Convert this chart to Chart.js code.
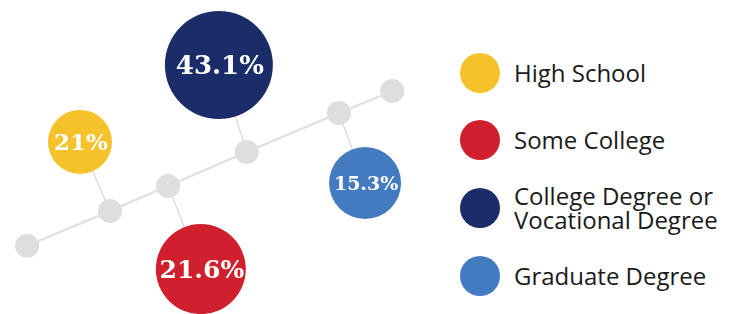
<!DOCTYPE html>
<html>
<head>
<meta charset="utf-8">
<script src="https://cdn.jsdelivr.net/npm/chart.js@4.4.1/dist/chart.umd.min.js"></script>
<style>
  body { margin: 0; background: #fff; }
  #wrap { position: relative; width: 735px; height: 314px; overflow: hidden; }
  #chart { position: absolute; left: 0; top: 0; }
  #legend { position: absolute; left: 460px; top: 0; font-family: "Open Sans", sans-serif; font-size: 24px; line-height: 24px; color: #1a1a1a; }
  .item { position: absolute; left: 0; display: flex; align-items: center; height: 50px; white-space: nowrap; }
  .dot { width: 40px; height: 40px; border-radius: 50%; margin-right: 14px; flex: none; }
</style>
</head>
<body>
<div id="wrap">
  <canvas id="chart" width="430" height="314"></canvas>
  <div id="legend"></div>
</div>
<script>
// categories and their shares (%)
const categories = ['High School', 'Some College', 'College Degree or\nVocational Degree', 'Graduate Degree'];
const shares = [21, 21.6, 43.1, 15.3];
const shareLabels = ['21%', '21.6%', '43.1%', '15.3%'];

// the gray timeline dots (layout units 0-100)
const stepX = [6.3, 25.6, 39.1, 57.4, 78.8, 91.2];
const stepY = [21.7, 32.8, 40.8, 51.6, 64.0, 71.0];

// where each bubble sits and which step it hangs from
const bubbleX = [18.6, 46.7, 50.9, 84.9];
const bubbleY = [54.8, 14.3, 79.3, 41.7];
const bubbleStep = [1, 2, 3, 4];

// styling
const colors = ['#f6c22c', '#d0202d', '#1b2d68', '#447bc0'];
const bubbleSize = [32, 45, 54, 36];
const labelFont = [23, 25, 26, 19];

const timeline = stepX.map((x, i) => ({ x: x, y: stepY[i] }));

const connectors = bubbleX.map((x, i) => ({
    type: 'line',
    data: [timeline[bubbleStep[i]], { x: x, y: bubbleY[i] }],
    borderColor: '#cfcfcf',
    borderWidth: 1,
    pointRadius: 0,
    order: 3,
    clip: false
}));

const bubbleLabels = {
    id: 'bubbleLabels',
    afterDatasetsDraw(chart) {
        const idx = chart.data.datasets.findIndex(d => d.type === 'bubble');
        const meta = chart.getDatasetMeta(idx);
        const ctx = chart.ctx;
        ctx.save();
        ctx.fillStyle = '#ffffff';
        ctx.textAlign = 'center';
        ctx.textBaseline = 'middle';
        meta.data.forEach((el, i) => {
            ctx.font = 'bold ' + labelFont[i] + 'px "DejaVu Serif", serif';
            ctx.fillText(shareLabels[i], el.x + 1, el.y + 2);
        });
        ctx.restore();
    }
};

new Chart(document.getElementById('chart').getContext('2d'), {
    type: 'scatter',
    data: {
        datasets: [
            ...connectors,
            {
                type: 'line',
                data: timeline,
                borderColor: '#e2e2e2',
                borderWidth: 2.5,
                pointRadius: 12,
                pointBorderWidth: 0,
                pointBackgroundColor: '#dedede',
                order: 2,
                clip: false
            },
            {
                type: 'bubble',
                label: 'Share',
                data: bubbleX.map((x, i) => ({ x: x, y: bubbleY[i], r: bubbleSize[i], v: shares[i] })),
                backgroundColor: colors,
                borderWidth: 0,
                order: 1,
                clip: false
            }
        ]
    },
    options: {
        responsive: false,
        animation: false,
        events: [],
        layout: { padding: 0, autoPadding: false },
        scales: {
            x: { type: 'linear', min: 0, max: 100, display: false },
            y: { type: 'linear', min: 0, max: 100, display: false }
        },
        plugins: {
            legend: { display: false },
            tooltip: { enabled: false }
        }
    },
    plugins: [bubbleLabels]
});

// legend
const legendTop = [48, 115, 183, 251];
const legend = document.getElementById('legend');
categories.forEach((name, i) => {
    const item = document.createElement('div');
    item.className = 'item';
    item.style.top = legendTop[i] + 'px';
    const dot = document.createElement('span');
    dot.className = 'dot';
    dot.style.background = colors[i];
    const text = document.createElement('span');
    text.innerHTML = name.split('\n').join('<br>');
    item.appendChild(dot);
    item.appendChild(text);
    legend.appendChild(item);
});
</script>
</body>
</html>
